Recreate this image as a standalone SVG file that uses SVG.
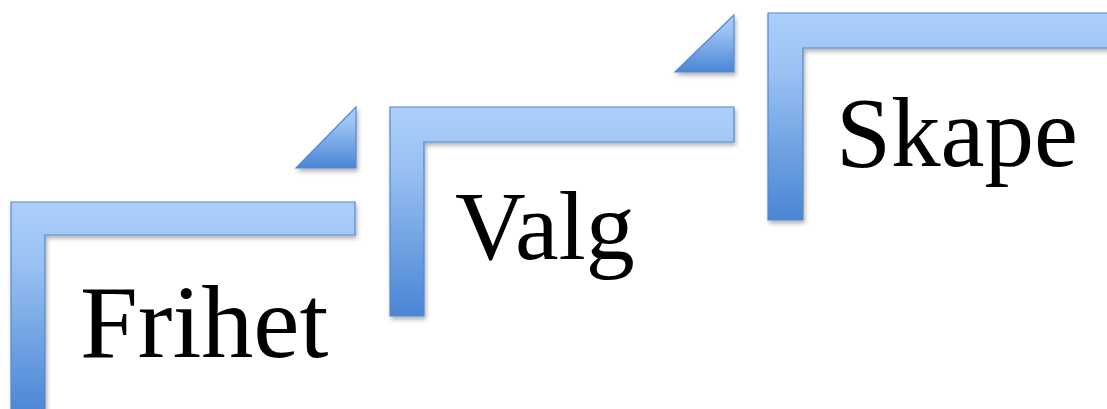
<svg xmlns="http://www.w3.org/2000/svg" width="1107" height="409" viewBox="0 0 1107 409">
  <style>
    .step { fill: url(#blueGrad); stroke: #5588cc; stroke-width: 1.2; filter: url(#shadow); }
    .label { font-family: "Liberation Serif", "DejaVu Serif", serif; fill: #000; }
  </style>
  <defs>
    <linearGradient id="blueGrad" x1="0" y1="0" x2="0" y2="1">
      <stop offset="0" stop-color="#acd0fa"/>
      <stop offset="0.3" stop-color="#98c0f2"/>
      <stop offset="1" stop-color="#4a86d4"/>
    </linearGradient>
    <filter id="shadow" x="-10%" y="-10%" width="130%" height="130%">
      <feDropShadow dx="1.5" dy="3" stdDeviation="2" flood-color="#000" flood-opacity="0.3"/>
    </filter>
  </defs>
  <rect width="1107" height="409" fill="#ffffff"/>

  <g id="connectors">
    <polygon class="step" points="296,168 356,168 356,107"/>
    <polygon class="step" points="675,72 734,72 734,15"/>
  </g>

  <g id="node-frihet">
    <polygon class="step" points="11,202 355,202 355,235 45,235 45,415 11,415"/>
    <text class="label" x="80" y="357" font-size="104">Frihet</text>
  </g>

  <g id="node-valg">
    <polygon class="step" points="390,107 734,107 734,142 424,142 424,316 390,316"/>
    <text class="label" x="455" y="259" font-size="98">Valg</text>
  </g>

  <g id="node-skape">
    <polygon class="step" points="768,13 1115,13 1115,48 803,48 803,220 768,220"/>
    <text class="label" x="836" y="166" font-size="99">Skape</text>
  </g>
</svg>
